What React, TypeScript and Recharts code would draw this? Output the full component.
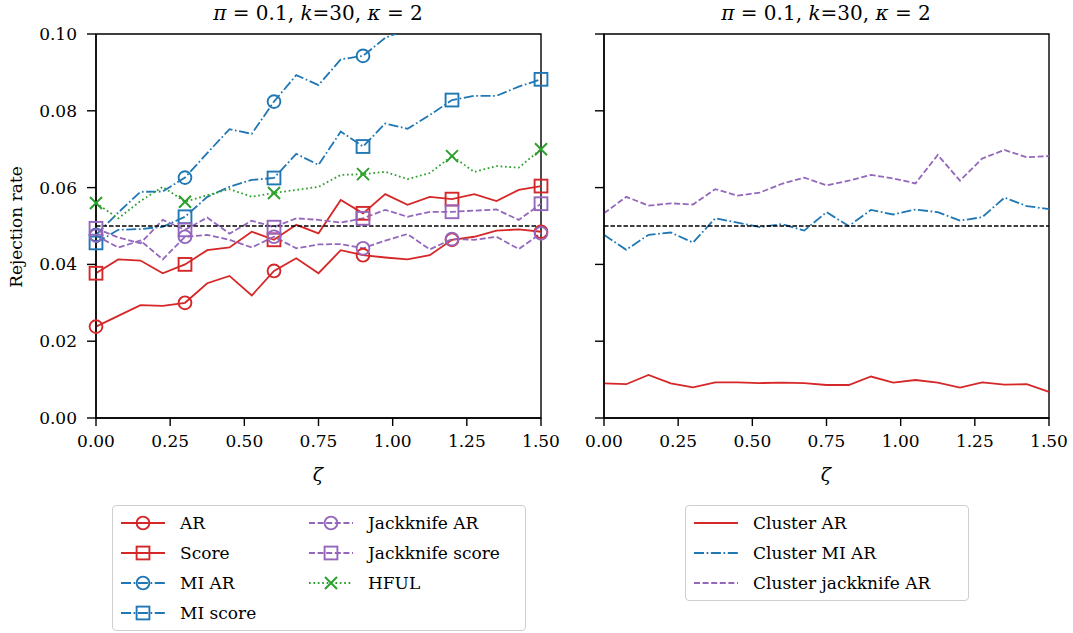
import React from 'react'
import { LineChart, Line, XAxis, YAxis, ReferenceLine, ReferenceArea } from 'recharts'

const zeta = [0, 0.075, 0.15, 0.225, 0.3, 0.375, 0.45, 0.525, 0.6, 0.675, 0.75, 0.825, 0.9, 0.975, 1.05, 1.125, 1.2, 1.275, 1.35, 1.425, 1.5]

const ar = [0.0238, 0.0266, 0.0294, 0.0292, 0.0300, 0.0351, 0.0370, 0.0319, 0.0383, 0.0416, 0.0377, 0.0437, 0.0424, 0.0418, 0.0413, 0.0424, 0.0464, 0.0472, 0.0488, 0.0491, 0.0485]
const score = [0.0377, 0.0413, 0.0410, 0.0377, 0.0400, 0.0437, 0.0444, 0.0485, 0.0464, 0.0503, 0.0481, 0.0568, 0.0533, 0.0583, 0.0555, 0.0576, 0.0570, 0.0583, 0.0565, 0.0594, 0.0604]
const miAr = [0.0477, 0.0535, 0.0589, 0.0590, 0.0626, 0.0690, 0.0752, 0.0740, 0.0824, 0.0893, 0.0867, 0.0934, 0.0943, 0.0990, 0.1012, 0.1040, 0.1065, 0.1080, 0.1100, 0.1110, 0.1135]
const miScore = [0.0456, 0.0490, 0.0492, 0.0498, 0.0524, 0.0576, 0.0602, 0.0620, 0.0625, 0.0688, 0.0659, 0.0746, 0.0707, 0.0767, 0.0753, 0.0789, 0.0828, 0.0839, 0.0839, 0.0863, 0.0882]
const jkAr = [0.0475, 0.0444, 0.0462, 0.0413, 0.0472, 0.0477, 0.0464, 0.0444, 0.0472, 0.0442, 0.0452, 0.0453, 0.0442, 0.0462, 0.0479, 0.0439, 0.0466, 0.0464, 0.0472, 0.0440, 0.0481]
const jkScore = [0.0494, 0.0470, 0.0455, 0.0516, 0.0490, 0.0522, 0.0480, 0.0514, 0.0497, 0.0520, 0.0516, 0.0509, 0.0520, 0.0542, 0.0524, 0.0537, 0.0537, 0.0540, 0.0543, 0.0516, 0.0558]
const hful = [0.0560, 0.0520, 0.0565, 0.0602, 0.0563, 0.0580, 0.0596, 0.0576, 0.0586, 0.0594, 0.0602, 0.0633, 0.0635, 0.0641, 0.0622, 0.0638, 0.0682, 0.0641, 0.0656, 0.0652, 0.0700]

const clAr = [0.0090, 0.0088, 0.0112, 0.0090, 0.0080, 0.0093, 0.0093, 0.0091, 0.0092, 0.0091, 0.0086, 0.0086, 0.0108, 0.0092, 0.0099, 0.0092, 0.0079, 0.0093, 0.0087, 0.0088, 0.0068]
const clMiAr = [0.0477, 0.0438, 0.0477, 0.0483, 0.0457, 0.0520, 0.0509, 0.0497, 0.0505, 0.0488, 0.0536, 0.0500, 0.0542, 0.0530, 0.0543, 0.0536, 0.0514, 0.0523, 0.0574, 0.0552, 0.0544]
const clJk = [0.0533, 0.0576, 0.0553, 0.0559, 0.0556, 0.0596, 0.0579, 0.0587, 0.0610, 0.0626, 0.0606, 0.0618, 0.0633, 0.0624, 0.0611, 0.0685, 0.0618, 0.0676, 0.0698, 0.0679, 0.0682]

const xTicks = [0, 0.25, 0.5, 0.75, 1, 1.25, 1.5]
const yTicks = [0, 0.02, 0.04, 0.06, 0.08, 0.1]

const RED = '#d62728'
const BLUE = '#1f77b4'
const GREEN = '#2ca02c'
const PURPLE = '#9467bd'
const SOLID = undefined
const DASHDOT = '10 2.6 1.7 2.6'
const DASHED = '6 2.6'
const DOTTED = '1.7 2.7'
const FONT = '"DejaVu Serif", serif'

const leftData = zeta.map((z, i) => ({ z, ar: ar[i], score: score[i], miAr: miAr[i], miScore: miScore[i], jkAr: jkAr[i], jkScore: jkScore[i], hful: hful[i] }))
const rightData = zeta.map((z, i) => ({ z, clAr: clAr[i], clMiAr: clMiAr[i], clJk: clJk[i] }))

type Shape = 'o' | 's' | 'x' | null

function Marker({ shape, cx, cy, color }: { shape: Shape; cx: number; cy: number; color: string }) {
  if (shape === 'o') return <circle cx={cx} cy={cy} r={6.4} fill="none" stroke={color} strokeWidth={1.9} />
  if (shape === 's') return <rect x={cx - 6.4} y={cy - 6.4} width={12.8} height={12.8} fill="none" stroke={color} strokeWidth={1.9} />
  if (shape === 'x') return <path d={`M${cx - 6} ${cy - 6}L${cx + 6} ${cy + 6}M${cx - 6} ${cy + 6}L${cx + 6} ${cy - 6}`} stroke={color} strokeWidth={2} />
  return null
}

const makeDot = (shape: Shape, color: string) => (p: any) => {
  const { cx, cy, index, value } = p
  if (shape == null || index % 4 !== 0 || cx == null || cy == null || value > 0.1) return <g key={`e${index}`} />
  return <g key={`m${index}`}><Marker shape={shape} cx={cx} cy={cy} color={color} /></g>
}

const leftSeries: { key: string; name: string; color: string; dash?: string; shape: Shape }[] = [
  { key: 'ar', name: 'AR', color: RED, dash: SOLID, shape: 'o' },
  { key: 'score', name: 'Score', color: RED, dash: SOLID, shape: 's' },
  { key: 'miAr', name: 'MI AR', color: BLUE, dash: DASHDOT, shape: 'o' },
  { key: 'miScore', name: 'MI score', color: BLUE, dash: DASHDOT, shape: 's' },
  { key: 'jkAr', name: 'Jackknife AR', color: PURPLE, dash: DASHED, shape: 'o' },
  { key: 'jkScore', name: 'Jackknife score', color: PURPLE, dash: DASHED, shape: 's' },
  { key: 'hful', name: 'HFUL', color: GREEN, dash: DOTTED, shape: 'x' },
]

const rightSeries: { key: string; name: string; color: string; dash?: string; shape: Shape }[] = [
  { key: 'clAr', name: 'Cluster AR', color: RED, dash: SOLID, shape: null },
  { key: 'clMiAr', name: 'Cluster MI AR', color: BLUE, dash: DASHDOT, shape: null },
  { key: 'clJk', name: 'Cluster jackknife AR', color: PURPLE, dash: DASHED, shape: null },
]

const tickStyle = { fill: '#000', fontSize: 17, fontFamily: FONT }

function Panel({ data, series, showYLabels }: { data: any[]; series: typeof leftSeries; showYLabels: boolean }) {
  return (
    <LineChart width={560} height={500} data={data} margin={{ top: 34, right: 19, left: 0, bottom: 42 }}>
      <XAxis dataKey="z" type="number" domain={[0, 1.5]} ticks={xTicks} tickFormatter={v => v.toFixed(2)}
        tick={tickStyle} tickSize={8} tickMargin={9} height={40} axisLine={{ stroke: '#000', strokeWidth: 1.4 }} tickLine={{ stroke: '#000', strokeWidth: 1.4 }} />
      <YAxis type="number" domain={[0, 0.1]} ticks={yTicks} allowDataOverflow
        tickFormatter={v => (showYLabels ? v.toFixed(2) : '')} tick={tickStyle} tickSize={9} tickMargin={10} width={96}
        axisLine={{ stroke: '#000', strokeWidth: 1.4 }} tickLine={{ stroke: '#000', strokeWidth: 1.4 }} />
      {series.map(s => (
        <Line key={s.key} dataKey={s.key} name={s.name} type="linear" stroke={s.color} strokeWidth={1.8}
          strokeDasharray={s.dash} dot={makeDot(s.shape, s.color)} activeDot={false} isAnimationActive={false} />
      ))}
      <ReferenceLine y={0.05} stroke="#000" strokeWidth={1.4} strokeDasharray="4.5 2" />
      <ReferenceArea x1={0} x2={1.5} y1={0} y2={0.1} fill="none" stroke="#000" strokeWidth={1.4} />
    </LineChart>
  )
}

function LegendSample({ color, dash, shape }: { color: string; dash?: string; shape: Shape }) {
  return (
    <svg width={46} height={16} style={{ display: 'block' }}>
      <line x1={1} y1={8} x2={45} y2={8} stroke={color} strokeWidth={1.8} strokeDasharray={dash} />
      <Marker shape={shape} cx={23} cy={8} color={color} />
    </svg>
  )
}

function LegendBox({ items, left, top, width, height, cols }: { items: typeof leftSeries; left: number; top: number; width: number; height: number; cols: { x: number; rows: number[] }[] }) {
  const boxStyle: React.CSSProperties = { position: 'absolute', left, top, width, height, border: '1.5px solid #cfcfcf', borderRadius: 4, boxSizing: 'border-box', background: '#fff' }
  let k = 0
  return (
    <div style={boxStyle}>
      {cols.map((c) => c.rows.map((ry) => {
        const s = items[k++]
        return (
          <div key={s.key} style={{ position: 'absolute', left: c.x, top: ry - 10, height: 20, display: 'flex', alignItems: 'center', gap: 14, whiteSpace: 'nowrap' }}>
            <LegendSample color={s.color} dash={s.dash} shape={s.shape} />
            <span style={{ fontFamily: FONT, fontSize: 17, color: '#000' }}>{s.name}</span>
          </div>
        )
      }))}
    </div>
  )
}

const Title = () => (
  <span><i>π</i> = 0.1, <i>k</i>=30, <i>κ</i> = 2</span>
)

export default function App() {
  const text: React.CSSProperties = { position: 'absolute', fontFamily: FONT, color: '#000', whiteSpace: 'nowrap' }
  return (
    <div style={{ position: 'absolute', left: 0, top: 0, width: 1073, height: 633, background: '#fff', overflow: 'hidden' }}>
      <div style={{ position: 'absolute', left: 0, top: 0 }}>
        <Panel data={leftData} series={leftSeries} showYLabels={true} />
      </div>
      <div style={{ position: 'absolute', left: 508, top: 0 }}>
        <Panel data={rightData} series={rightSeries} showYLabels={false} />
      </div>
      <div style={{ ...text, left: 318, top: 13, fontSize: 20, transform: 'translate(-50%, -50%)' }}><Title /></div>
      <div style={{ ...text, left: 826, top: 13, fontSize: 20, transform: 'translate(-50%, -50%)' }}><Title /></div>
      <div style={{ ...text, left: 318, top: 474, fontSize: 19, fontStyle: 'italic', transform: 'translate(-50%, -50%)' }}>ζ</div>
      <div style={{ ...text, left: 826, top: 474, fontSize: 19, fontStyle: 'italic', transform: 'translate(-50%, -50%)' }}>ζ</div>
      <div style={{ ...text, left: 16, top: 227, fontSize: 17, transform: 'translate(-50%, -50%) rotate(-90deg)' }}>Rejection rate</div>
      <LegendBox items={leftSeries} left={112} top={505} width={414} height={126}
        cols={[{ x: 7, rows: [17, 47, 77, 107] }, { x: 195, rows: [17, 47, 77] }]} />
      <LegendBox items={rightSeries} left={685} top={505} width={284} height={96}
        cols={[{ x: 7, rows: [17, 47, 77] }]} />
    </div>
  )
}
